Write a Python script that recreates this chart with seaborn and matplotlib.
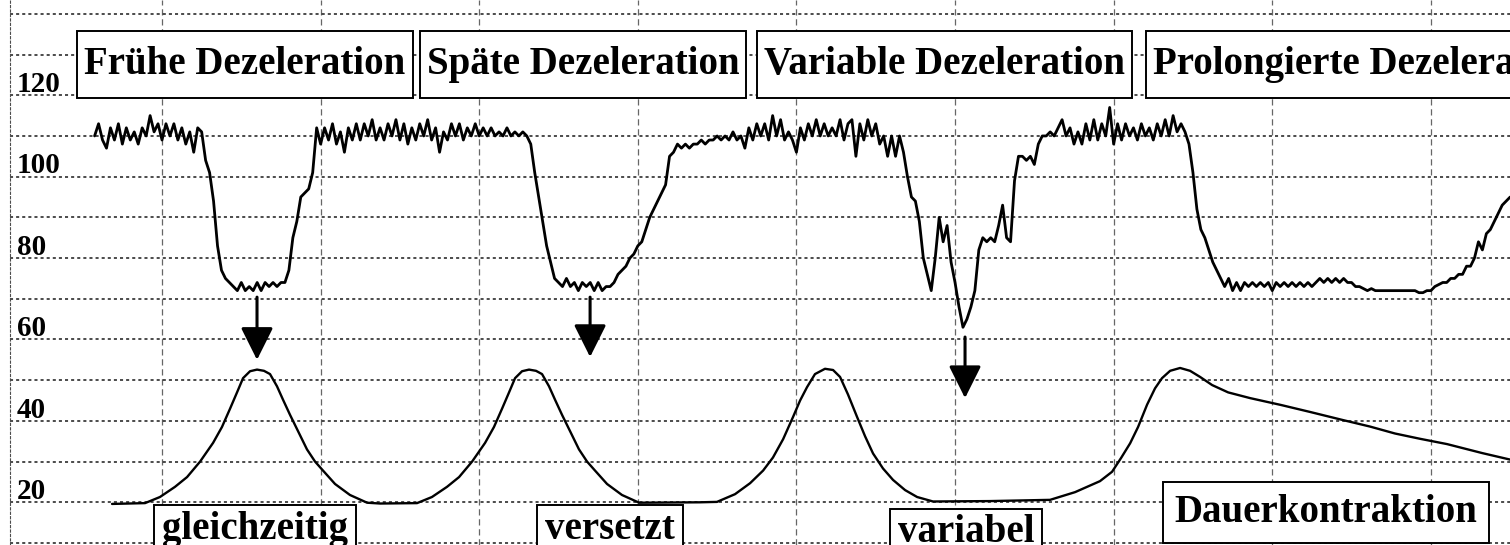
import numpy as np
import pandas as pd
import matplotlib
matplotlib.use('Agg')
import matplotlib.pyplot as plt
import seaborn as sns

# fetal heart rate trace, one reading every 0.025 min starting at t = 0.575 min
fhr_start = 0.575
fhr_step = 0.025
fhr_bpm = [
    110, 113, 109, 107, 112, 109, 113, 108, 112, 109,
    111, 108, 112, 110, 115, 111, 113, 109, 113, 110,
    113, 109, 112, 108, 111, 106, 112, 111, 104, 101,
    94, 83, 77, 75, 74, 73, 72, 74, 72, 73,
    72, 74, 72, 74, 73, 74, 73, 74, 74, 77,
    85, 89, 95, 96, 97, 101, 112, 108, 112, 109,
    113, 108, 111, 106, 112, 109, 113, 109, 113, 110,
    114, 109, 112, 109, 113, 110, 114, 109, 113, 108,
    112, 109, 113, 110, 114, 109, 112, 106, 111, 109,
    113, 110, 113, 109, 112, 110, 113, 110, 112, 110,
    112, 110, 111, 110, 112, 110, 111, 110, 111, 110,
    108, 101, 95, 89, 83, 79, 75, 74, 73, 75,
    73, 74, 72, 74, 73, 74, 72, 74, 72, 73,
    73, 74, 76, 77, 78, 80, 81, 83, 84, 87,
    90, 92, 94, 96, 98, 105, 106, 108, 107, 108,
    107, 108, 108, 109, 108, 109, 109, 110, 109, 110,
    109, 111, 109, 110, 107, 112, 109, 113, 110, 113,
    109, 115, 110, 114, 109, 111, 109, 106, 112, 109,
    113, 110, 114, 110, 113, 110, 112, 110, 114, 109,
    113, 114, 105, 113, 109, 114, 110, 113, 108, 110,
    105, 110, 105, 110, 106, 100, 95, 94, 89, 80,
    76, 72, 80, 90, 84, 88, 79, 74, 68, 63,
    65, 68, 72, 82, 85, 84, 85, 84, 88, 93,
    85, 84, 99, 105, 105, 104, 105, 103, 108, 110,
    110, 111, 110, 112, 114, 110, 112, 108, 111, 108,
    113, 109, 114, 109, 113, 110, 117, 108, 113, 109,
    113, 110, 112, 109, 113, 110, 112, 109, 113, 110,
    114, 110, 115, 111, 113, 111, 108, 101, 92, 87,
    85, 82, 79, 77, 75, 73, 75, 72, 74, 72,
    74, 73, 74, 73, 74, 73, 74, 72, 74, 73,
    74, 73, 74, 73, 74, 73, 74, 73, 74, 75,
    74, 75, 74, 75, 74, 75, 74, 74, 73, 73,
    72.5, 72, 72.5, 72, 72, 72, 72, 72, 72, 72,
    72, 72, 72, 72, 71.5, 71.5, 72, 72, 73, 73.5,
    74, 74, 75, 75, 76, 76, 78, 78, 80, 84,
    82, 86, 87, 89, 91, 93, 94, 95,
]

# uterine contraction (toco) curve
toco_t = [
    0.685, 0.893, 0.987, 1.082, 1.158, 1.240, 1.322, 1.378, 1.429, 1.473,
    1.511, 1.555, 1.599, 1.643, 1.681, 1.725, 1.763, 1.807, 1.870, 1.914,
    1.965, 2.015, 2.091, 2.185, 2.293, 2.375,
    2.608, 2.702, 2.797, 2.873, 2.955, 3.037, 3.093, 3.144, 3.188, 3.226,
    3.270, 3.314, 3.358, 3.396, 3.440, 3.478, 3.522, 3.585, 3.629, 3.680,
    3.730, 3.806, 3.900, 4.008,
    4.392, 4.499, 4.613, 4.708, 4.790, 4.852, 4.916, 4.979, 5.023, 5.067,
    5.117, 5.180, 5.231, 5.275, 5.325, 5.382, 5.433, 5.483, 5.546, 5.609,
    5.685, 5.761, 5.861, 6.221, 6.599, 6.757, 6.914,
    6.990, 7.047, 7.104, 7.154, 7.211, 7.261, 7.305, 7.356, 7.419, 7.482,
    7.545, 7.621, 7.722, 7.860, 8.056, 8.238, 8.446, 8.617, 8.774, 8.932,
    9.102, 9.323, 9.499,
]
toco_v = [
    19.6, 19.8, 21.3, 23.8, 26.2, 30.0, 34.6, 38.5, 43.0, 47.0,
    50.5, 52.2, 52.6, 52.3, 51.5, 48.5, 45.2, 41.5, 36.5, 33.0,
    30.0, 27.8, 24.5, 21.8, 19.9, 19.7,
    19.8, 21.3, 23.8, 26.2, 30.0, 34.6, 38.5, 43.0, 47.0, 50.5,
    52.2, 52.6, 52.3, 51.5, 48.5, 45.2, 41.5, 36.5, 33.0, 30.0,
    27.8, 24.5, 21.8, 19.9,
    20.0, 20.1, 22.0, 24.7, 27.8, 31.0, 35.5, 41.0, 45.0, 48.3,
    51.5, 52.8, 52.5, 50.8, 46.5, 41.0, 36.2, 32.0, 28.3, 25.5,
    23.0, 21.3, 20.2, 20.3, 20.6, 22.5, 25.2,
    27.5, 30.9, 34.5, 38.5, 44.0, 48.0, 50.5, 52.3, 53.0, 52.3,
    50.8, 48.8, 47.0, 45.6, 43.9, 42.2, 40.2, 38.6, 36.9, 35.6,
    34.3, 32.1, 30.5,
]

phase_labels = ['Frühe Dezeleration', 'Späte Dezeleration',
                'Variable Dezeleration', 'Prolongierte Dezeleration']
contraction_labels = ['gleichzeitig', 'versetzt', 'variabel', 'Dauerkontraktion']
y_labels = [20, 40, 60, 80, 100, 120]

fhr = pd.DataFrame({'t': fhr_start + fhr_step * np.arange(len(fhr_bpm)), 'bpm': fhr_bpm})
toco = pd.DataFrame({'t': toco_t, 'v': toco_v})

sns.set_style('white')
plt.rcParams['font.family'] = ['Liberation Serif', 'DejaVu Serif']
plt.rcParams['text.color'] = 'black'

fig = plt.figure(figsize=(15.1, 5.45), dpi=100)
ax = fig.add_axes([10 / 1510, 0, 1500 / 1510, 1])

sns.lineplot(data=fhr, x='t', y='bpm', estimator=None, sort=False, color='black', lw=2.0, ax=ax)
sns.lineplot(data=toco, x='t', y='v', estimator=None, sort=False, color='black', lw=1.7, ax=ax)

ax.set_xlim(0.0416, 9.499)
ax.set_ylim(9.51, 143.4)
ax.set_xticks(range(1, 10))
ax.set_yticks(range(10, 141, 10))
ax.tick_params(length=0, labelbottom=False, labelleft=False)
ax.set_xlabel('')
ax.set_ylabel('')
ax.set_axisbelow(True)
ax.xaxis.grid(True, linestyle=(0, (5, 3)), lw=0.9, color='0.4')
ax.yaxis.grid(True, linestyle=(0, (2, 2)), lw=1.1, color='0.1')
for side in ['top', 'right', 'bottom']:
    ax.spines[side].set_visible(False)
ax.spines['left'].set_linestyle((0, (2, 2)))
ax.spines['left'].set_color('0.3')

for val in y_labels:
    ax.text(0.086, val + 0.8, str(val), fontsize=21, fontweight='bold', ha='left', va='baseline')

# deceleration type headers
box_top = dict(boxstyle='square,pad=0.18', fc='white', ec='black', lw=1.4, mutation_aspect=2.1)
for label, t in zip(phase_labels[:3], [1.523, 3.654, 5.934]):
    ax.text(t, 127.6, label, fontsize=28, fontweight='bold', ha='center', va='center', bbox=box_top)
ax.text(7.249, 127.6, phase_labels[3], fontsize=28, fontweight='bold', ha='left', va='center', bbox=box_top)

# contraction descriptions
box_bot = dict(boxstyle='square,pad=0.2', fc='white', ec='black', lw=1.4, mutation_aspect=0.7)
for label, t, v in zip(contraction_labels[:3], [1.586, 3.825, 6.069], [11.0, 11.0, 10.2]):
    ax.text(t, v, label, fontsize=28, fontweight='bold', ha='center', va='baseline', bbox=box_bot)
ax.text(8.339, 15.2, contraction_labels[3], fontsize=28, fontweight='bold', ha='center', va='baseline',
        bbox=dict(boxstyle='square,pad=0.3', fc='white', ec='black', lw=1.4))

# arrows from the deceleration to the contraction
for t, v0, v1 in zip([1.599, 3.699, 6.063], [70.4, 70.4, 60.6], [55.0, 55.7, 45.6]):
    ax.annotate('', xy=(t, v1), xytext=(t, v0),
                arrowprops=dict(arrowstyle='-|>,head_length=1.0,head_width=0.5', color='black',
                                lw=2.2, mutation_scale=20, shrinkA=0, shrinkB=0))

fig.savefig('out.png', dpi=100)
